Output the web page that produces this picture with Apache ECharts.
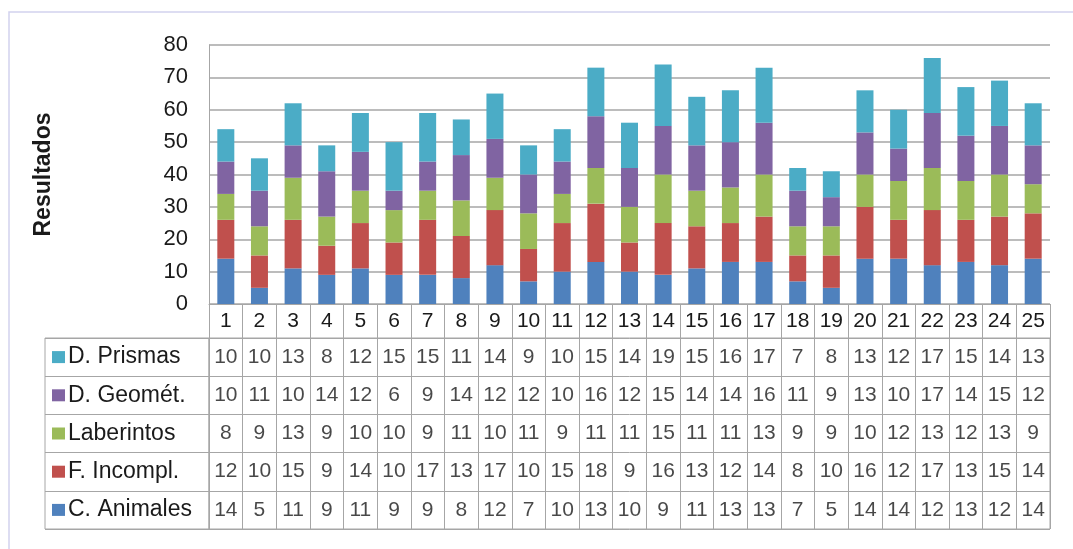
<!DOCTYPE html>
<html>
<head>
<meta charset="utf-8">
<script src="https://cdn.jsdelivr.net/npm/echarts@6/dist/echarts.min.js"></script>
<style>
html,body{margin:0;padding:0;background:#fff;}
#chart{width:1073px;height:549px;}
</style>
</head>
<body>
<div id="chart"></div>
<script>
var categories = ['1','2','3','4','5','6','7','8','9','10','11','12','13','14','15','16','17','18','19','20','21','22','23','24','25'];
var cAnimales  = [14,5,11,9,11,9,9,8,12,7,10,13,10,9,11,13,13,7,5,14,14,12,13,12,14];
var fIncompl   = [12,10,15,9,14,10,17,13,17,10,15,18,9,16,13,12,14,8,10,16,12,17,13,15,14];
var laberintos = [8,9,13,9,10,10,9,11,10,11,9,11,11,15,11,11,13,9,9,10,12,13,12,13,9];
var dGeomet    = [10,11,10,14,12,6,9,14,12,12,10,16,12,15,14,14,16,11,9,13,10,17,14,15,12];
var dPrismas   = [10,10,13,8,12,15,15,11,14,9,10,15,14,19,15,16,17,7,8,13,12,17,15,14,13];
var yTicks = [0,10,20,30,40,50,60,70,80];
var yAxisTitle = 'Resultados';

var seriesNames = ['C. Animales','F. Incompl.','Laberintos','D. Geomét.','D. Prismas'];
var seriesData = [cAnimales, fIncompl, laberintos, dGeomet, dPrismas];
var colors = ['#4F81BD','#C0504D','#9BBB59','#8064A2','#4BACC6'];

// table rows from top to bottom
var tableOrder = [4,3,2,1,0];
var FONT = 'Liberation Sans, Arial, sans-serif';
var GRID_C = '#a6a6a6';
var TXT = '#1a1a1a';

var chart = echarts.init(document.getElementById('chart'), null, {renderer:'canvas'});

var series = [];
seriesNames.forEach(function(n,i){
  series.push({
    name:n, type:'bar', stack:'total', xAxisIndex:0, yAxisIndex:0,
    barWidth:17, data:seriesData[i],
    itemStyle:{color:colors[i]}
  });
});

var cellData = [];
tableOrder.forEach(function(si,row){
  seriesData[si].forEach(function(v,ci){ cellData.push([ci,row,v]); });
});
series.push({
  type:'scatter', xAxisIndex:1, yAxisIndex:1, symbolSize:1,
  itemStyle:{color:'rgba(0,0,0,0)'},
  silent:true,
  label:{show:true, position:'inside', formatter:function(p){return String(p.value[2]);},
         color:TXT, fontSize:21, fontFamily:FONT},
  data:cellData
});

var rich = {};
tableOrder.forEach(function(si){
  rich['s'+si] = {width:13,height:12,backgroundColor:colors[si]};
});
rich.t = {fontSize:23, fontFamily:FONT, color:TXT, padding:[0,0,0,3]};

var option = {
  animation:false,
  backgroundColor:'#fff',
  graphic:[{type:'rect', shape:{x:9,y:12,width:1100,height:600},
    style:{fill:'none', stroke:'#d2d2ee', lineWidth:1.5}, silent:true}],
  grid:[
    {left:209, right:23, top:45, height:259, containLabel:false},
    {left:209, right:23, top:338, bottom:20, show:true, borderColor:GRID_C, borderWidth:1},
    {left:45, width:164, top:338, bottom:20, show:true, borderColor:GRID_C, borderWidth:1}
  ],
  xAxis:[
    {type:'category', gridIndex:0, data:categories,
     axisLine:{lineStyle:{color:GRID_C}},
     axisTick:{show:true, length:34, lineStyle:{color:GRID_C}},
     axisLabel:{color:TXT, fontSize:21, fontFamily:FONT, margin:7, interval:0}},
    {type:'category', gridIndex:1, data:categories,
     axisLine:{show:false}, axisTick:{show:false}, axisLabel:{show:false},
     splitLine:{show:true, interval:0, lineStyle:{color:GRID_C}}},
    {type:'value', gridIndex:2, show:false}
  ],
  yAxis:[
    {type:'value', gridIndex:0, min:0, max:80, interval:10,
     name:yAxisTitle, nameLocation:'middle', nameGap:154, nameRotate:90,
     nameTextStyle:{fontSize:23, fontWeight:'bold', fontFamily:FONT, color:TXT},
     axisLine:{show:true, lineStyle:{color:GRID_C}},
     axisTick:{show:false},
     axisLabel:{color:TXT, fontSize:22, fontFamily:FONT, margin:21,
       formatter:function(v){return yTicks.indexOf(v)>=0?String(v):'';}},
     splitLine:{show:true, lineStyle:{color:GRID_C, width:1.5}}},
    {type:'category', gridIndex:1, inverse:true,
     data:tableOrder.map(function(si){return seriesNames[si];}),
     axisLine:{show:true, lineStyle:{color:GRID_C}},
     axisTick:{show:true, length:164, lineStyle:{color:GRID_C}},
     axisLabel:{align:'left', margin:157, interval:0,
       formatter:function(v,idx){var si=tableOrder[idx]; return '{s'+si+'|}{t|'+v+'}';},
       rich:rich},
     splitLine:{show:true, interval:0, lineStyle:{color:GRID_C}}},
    {type:'value', gridIndex:2, show:false}
  ],
  series:series
};
chart.setOption(option);
</script>
</body>
</html>
